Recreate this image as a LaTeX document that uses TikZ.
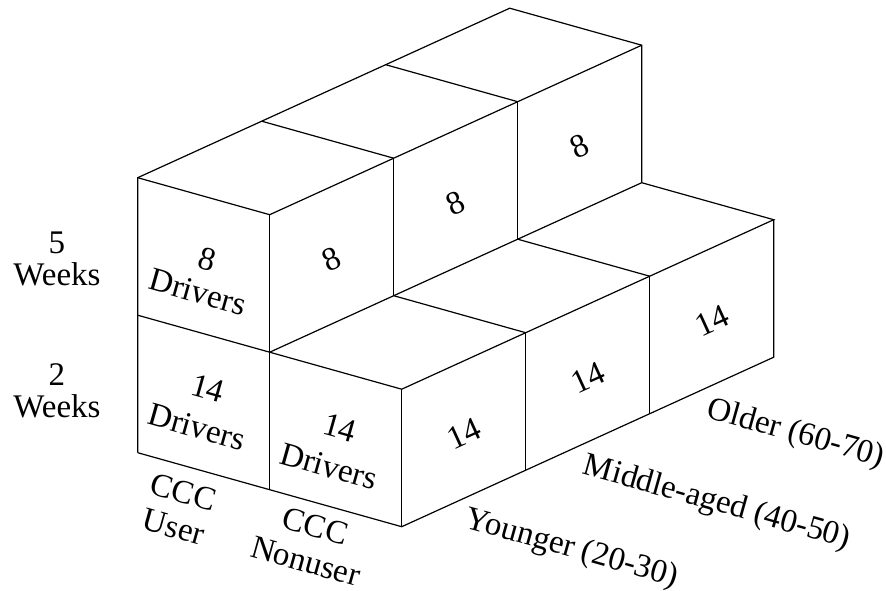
\documentclass[tikz,border=0pt]{standalone}
\usepackage{fontspec}
\setmainfont{Liberation Serif}
\usetikzlibrary{calc}

\begin{document}
\begin{tikzpicture}[x={(66pt,-18.5pt)}, y={(62pt,28.25pt)}, z={(0pt,68.75pt)},
    line width=0.6pt,
    lbl/.style={font=\fontsize{16.5}{17}\selectfont, align=center, inner sep=0pt},
    front/.style={lbl, rotate=-15.7},
    side/.style={lbl, rotate=24.5},
    age/.style={lbl, rotate=-15.7, anchor=north west}
]
\useasboundingbox (-68.85pt,-68.65pt) rectangle (374.15pt,226.35pt);

% 5 weeks, CCC users
\draw (0,0,0) -- (0,0,2) -- (0,3,2) -- (1,3,2) -- (1,3,1);
\draw (0,0,2) -- (1,0,2) -- (1,3,2);
\draw (0,1,2) -- (1,1,2);
\draw (0,2,2) -- (1,2,2);
\draw (1,0,2) -- (1,0,0);
\draw (1,1,1) -- (1,1,2);
\draw (1,2,1) -- (1,2,2);

% 2 weeks
\draw (0,0,1) -- (2,0,1) -- (2,3,1) -- (1,3,1);
\draw (1,0,1) -- (1,3,1);
\draw (1,1,1) -- (2,1,1);
\draw (1,2,1) -- (2,2,1);
\draw (0,0,0) -- (2,0,0) -- (2,3,0) -- (2,3,1);
\draw (2,0,0) -- (2,0,1);
\draw (2,1,0) -- (2,1,1);
\draw (2,2,0) -- (2,2,1);

% cell counts
\node[front] (u5) at (0.49,0,1.42) {8\\Drivers};
\node[front] (u2) at (0.49,0,0.46) {14\\[3pt]Drivers};
\node[front] (n2) at (1.49,0,0.44) {14\\[3pt]Drivers};
\node[side] (u5a) at (1,0.5,1.47) {8};
\node[side] (u5b) at (1,1.5,1.47) {8};
\node[side] (u5c) at (1,2.5,1.47) {8};
\node[side] (n2a) at (2,0.5,0.47) {14};
\node[side] (n2b) at (2,1.5,0.47) {14};
\node[side] (n2c) at (2,2.5,0.47) {14};

% axis labels
\node[lbl] (wk5) at (-40.35pt,96.85pt) {5\\[-1pt]Weeks};
\node[lbl] (wk2) at (-40.35pt,30.85pt) {2\\[-1pt]Weeks};
\node[front] (user) at (0.31,0,-0.33) {CCC\\[1pt]User};
\node[front] (nonuser) at (1.31,0,-0.31) {CCC\\[1pt]Nonuser};
\node[age] (young) at ($(2,0.5,0)+(3pt,-3pt)$) {Younger (20-30)};
\node[age] (middle) at ($(2,1.5,0)+(0pt,-4.5pt)$) {Middle-aged (40-50)};
\node[age] (old) at ($(2,2.5,0)+(0pt,-4.5pt)$) {Older (60-70)};
\end{tikzpicture}
\end{document}
